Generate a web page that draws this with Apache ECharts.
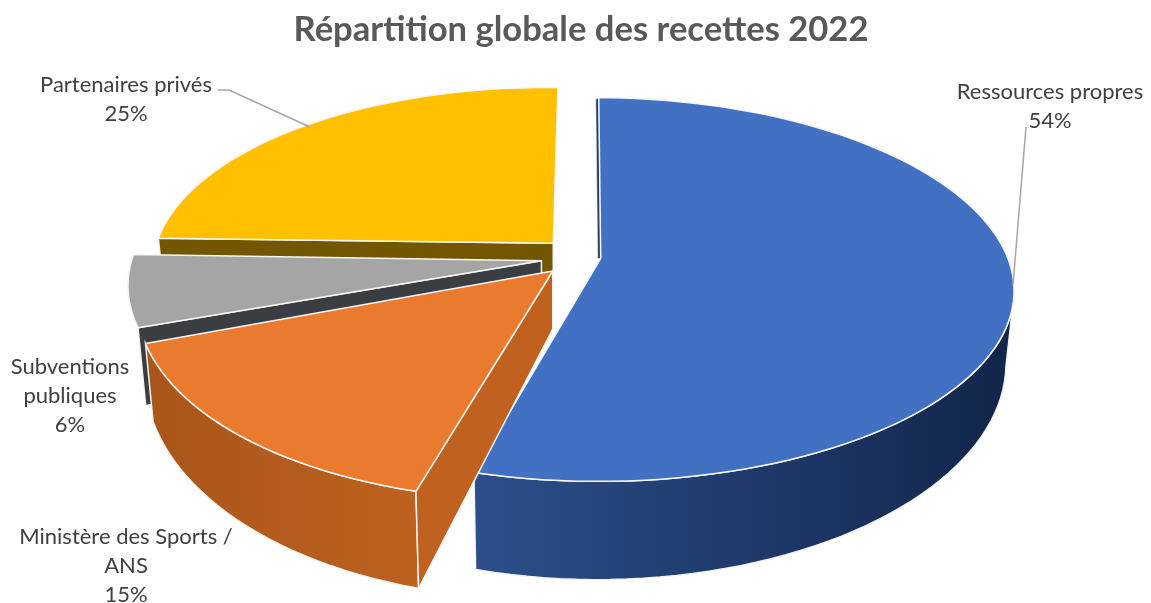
<!DOCTYPE html>
<html>
<head>
<meta charset="utf-8">
<title>Répartition globale des recettes 2022</title>
<script src="https://cdn.jsdelivr.net/npm/echarts@6/dist/echarts.min.js"></script>
<style>
  html, body { margin: 0; padding: 0; background: #fff; }
  #chart { width: 1151px; height: 603px; }
</style>
</head>
<body>
<div id="chart"></div>
<script>
// data, clockwise from 12 o'clock
var categories = ['Ressources propres', 'Ministère des Sports /\nANS', 'Subventions\npubliques', 'Partenaires privés'];
var values = [54, 15, 6, 25];

// look of each slice, same order as categories
var topColors = ['#4270c2', '#ea7a2d', '#a5a5a5', '#ffc000'];
var cutColors = ['#2a3f66', '#c0611f', '#3a3d42', '#735600'];
var wallColors = [['#2c4f8c', '#12254a'], ['#bd621f', '#a9551b'], ['#3a3d42', '#3a3d42'], ['#735600', '#735600']];
var paintOrder = [2, 4, 3, 1];         // z2, back to front
var explode = [35, 20, 25, 18];        // px along the slice bisector
var scaleX = [1, 1.005, 1, 0.968];
var scaleY = [1, 1.03, 1, 0.968];
var shearFront = [-0.03, -0.07, 0, 0];
var shearBack = [0.012, 0, 0, -0.03];
var roll = [0.005, 0.007, 0.015, 0.013];
var apexLift = [-2, 0, 0, 0];
var cutShift = [-3, 0, 0, 0];

// label placement, same order
var labelPos = [[1050, 91], [126, 536], [70, 366], [126, 84]];
var leaders = [
  [[1026, 127], [1013, 285]],
  null,
  null,
  [[218, 90], [229, 90], [310, 127]]
];

// 3d pie projection
var cx = 566, cy = 256;
var R = 408, tilt = 0.458, persp = 0.162;
var depth = 69, apexDrop = 58, bottomScale = 0.982;

var total = values.reduce(function (a, b) { return a + b; }, 0);
var starts = [];
values.reduce(function (acc, v, i) { starts[i] = acc; return acc + v; }, 0);

function rad(d) { return d * Math.PI / 180; }

function apexOf(i) {
  var mid = rad((starts[i] + values[i] / 2) / total * 360);
  return [cx + explode[i] * Math.sin(mid), cy - explode[i] * Math.cos(mid) + apexLift[i]];
}

function rimPoint(i, deg) {
  var a = apexOf(i);
  var t = rad(deg);
  var s = 1 / (1 + persp * Math.cos(t));
  var x0 = R * scaleX[i] * Math.sin(t) * s;
  var y0 = -R * scaleY[i] * tilt * Math.cos(t) * s;
  var lean = y0 > 0 ? shearFront[i] * y0 * y0 / 215 : shearBack[i] * y0;
  return [a[0] + x0 + lean, a[1] + y0 + roll[i] * x0];
}

function dropPoint(p, deg) {
  var s = 1 / (1 + persp * Math.cos(rad(deg)));
  return [cx + (p[0] - cx) * bottomScale, p[1] + depth * s * s];
}

function renderSlice(params, api) {
  var i = params.dataIndex;
  var from = api.value(1) / total * 360;
  var to = from + api.value(0) / total * 360;
  var apex = apexOf(i);
  var z = paintOrder[i] * 10;
  var children = [];
  var rim = [], d;

  for (d = from; d < to; d += 2) rim.push(rimPoint(i, d));
  rim.push(rimPoint(i, to));

  // outer wall, only the part turned to the viewer
  var wallFrom = Math.max(from, 100), wallTo = Math.min(to, 250);
  if (wallTo > wallFrom && i !== 2) {
    var upper = [], lower = [];
    for (d = wallFrom; d < wallTo; d += 2) {
      upper.push(rimPoint(i, d));
      lower.push(dropPoint(rimPoint(i, d), d));
    }
    upper.push(rimPoint(i, wallTo));
    lower.push(dropPoint(rimPoint(i, wallTo), wallTo));
    children.push({
      type: 'polygon',
      z2: z,
      shape: { points: upper.concat(lower.reverse()) },
      style: {
        fill: new echarts.graphic.LinearGradient(i === 0 ? 0 : 1, 0, i === 0 ? 1 : 0, 0, [
          { offset: 0, color: wallColors[i][0] },
          { offset: 1, color: wallColors[i][1] }
        ]),
        stroke: '#f4f4f4',
        lineWidth: 1.5
      }
    });
  }

  // cut face at the start of the slice, the back one only shows as a sliver
  var outer = rimPoint(i, from);
  var cutPoints = cutShift[i]
    ? [apex, outer, [outer[0] + cutShift[i], outer[1] + 2], [apex[0] + cutShift[i], apex[1]]]
    : [apex, outer, dropPoint(outer, from), [apex[0], apex[1] + apexDrop]];
  children.push({
    type: 'polygon',
    z2: z + 1,
    shape: { points: cutPoints },
    style: { fill: cutColors[i], stroke: '#f4f4f4', lineWidth: cutShift[i] ? 0.5 : 1.5 }
  });

  // top face
  children.push({
    type: 'polygon',
    z2: z + 2,
    shape: { points: [apex].concat(rim) },
    style: { fill: topColors[i], stroke: '#f6f6f6', lineWidth: 1.5, lineJoin: 'round' }
  });

  return { type: 'group', children: children };
}

function renderLabel(params, api) {
  var i = params.dataIndex;
  var children = [{
    type: 'text',
    z2: 100,
    style: {
      x: labelPos[i][0],
      y: labelPos[i][1] - 14,
      text: categories[i] + '\n' + api.value(0) + '%',
      align: 'center',
      verticalAlign: 'top',
      fill: '#404040',
      font: '22px Lato',
      lineHeight: 29
    }
  }];
  if (leaders[i]) {
    children.push({
      type: 'polyline',
      z2: 90,
      shape: { points: leaders[i] },
      style: { fill: 'none', stroke: '#a6a6a6', lineWidth: 1.5 }
    });
  }
  return { type: 'group', children: children };
}

var seriesData = values.map(function (v, i) { return [v, starts[i]]; });

var option = {
  backgroundColor: '#fff',
  animation: false,
  title: {
    text: 'Répartition globale des recettes 2022',
    left: 576,
    top: 7,
    textAlign: 'center',
    textStyle: { color: '#595959', fontFamily: 'Lato', fontWeight: 'bold', fontSize: 34.6 }
  },
  series: [
    { type: 'custom', coordinateSystem: 'none', silent: true, renderItem: renderSlice, data: seriesData },
    { type: 'custom', coordinateSystem: 'none', silent: true, z: 3, renderItem: renderLabel, data: seriesData }
  ]
};

var myChart = echarts.init(document.getElementById('chart'));
myChart.setOption(option);
</script>
</body>
</html>
